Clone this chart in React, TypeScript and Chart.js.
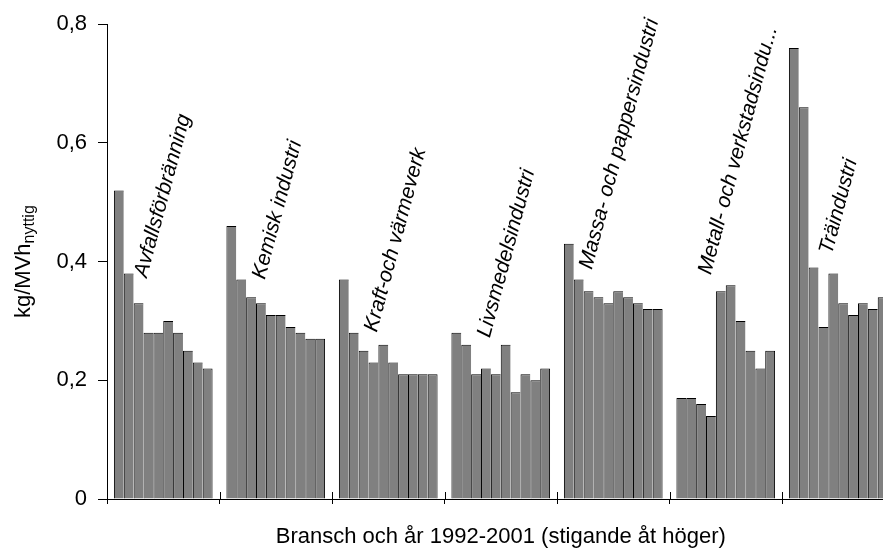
import React, { useEffect, useRef } from "react";
import { Chart, registerables } from "chart.js";

Chart.register(...registerables);

// ---- Data ----
const industries = [
  "Avfallsförbränning",
  "Kemisk industri",
  "Kraft-och värmeverk",
  "Livsmedelsindustri",
  "Massa- och pappersindustri",
  "Metall- och verkstadsindu...",
  "Träindustri",
];
const years = ["1992", "1993", "1994", "1995", "1996", "1997", "1998", "1999", "2000", "2001"];

const avfallsforbranning = [0.52, 0.38, 0.33, 0.28, 0.28, 0.30, 0.28, 0.25, 0.23, 0.22];
const kemiskIndustri = [0.46, 0.37, 0.34, 0.33, 0.31, 0.31, 0.29, 0.28, 0.27, 0.27];
const kraftOchVarmeverk = [0.37, 0.28, 0.25, 0.23, 0.26, 0.23, 0.21, 0.21, 0.21, 0.21];
const livsmedelsindustri = [0.28, 0.26, 0.21, 0.22, 0.21, 0.26, 0.18, 0.21, 0.20, 0.22];
const massaOchPappersindustri = [0.43, 0.37, 0.35, 0.34, 0.33, 0.35, 0.34, 0.33, 0.32, 0.32];
const metallOchVerkstadsindustri = [0.17, 0.17, 0.16, 0.14, 0.35, 0.36, 0.30, 0.25, 0.22, 0.25];
const traindustri = [0.76, 0.66, 0.39, 0.29, 0.38, 0.33, 0.31, 0.33, 0.32, 0.34];

const series = [
  avfallsforbranning,
  kemiskIndustri,
  kraftOchVarmeverk,
  livsmedelsindustri,
  massaOchPappersindustri,
  metallOchVerkstadsindustri,
  traindustri,
];

const yTickLabels = ["0", "0,2", "0,4", "0,6", "0,8"];
const yTitleMain = "kg/MVh";
const yTitleSub = "nyttig";
const xTitle = "Bransch och år 1992-2001 (stigande åt höger)";

// ---- Style / placement config ----
const FONT = "'Liberation Sans', Arial, Helvetica, sans-serif";
const CAT_PCT = 0.877;
const labelSlot = [3.33, 3.88, 3.83, 3.88, 2.82, 3.48, 4.34]; // in bar widths from group start
const labelLevel = [0.372, 0.369, 0.28, 0.271, 0.386, 0.377, 0.411]; // y value of label baseline start
const LABEL_ANGLE = -75;

const annotate = {
  id: "annotate",
  afterDraw(chart: any) {
    const { ctx, chartArea } = chart;
    const x = chart.scales.x;
    const y = chart.scales.y;
    const cat = x.getPixelForValue(1) - x.getPixelForValue(0);
    const groupW = cat * CAT_PCT;
    const barW = groupW / years.length;
    ctx.save();
    ctx.fillStyle = "#000";
    ctx.strokeStyle = "#000";

    // upward parts of x-axis tick marks
    ctx.lineWidth = 1;
    ctx.beginPath();
    for (let i = 0; i <= industries.length; i++) {
      const bx = Math.round(x.getPixelForValue(0) - cat / 2 + i * cat) + 0.5;
      ctx.moveTo(bx, chartArea.bottom - 7);
      ctx.lineTo(bx, chartArea.bottom);
    }
    ctx.stroke();

    // group labels
    ctx.font = `italic 21px ${FONT}`;
    ctx.textAlign = "left";
    ctx.textBaseline = "alphabetic";
    industries.forEach((name, i) => {
      const gx = x.getPixelForValue(i) - groupW / 2 + labelSlot[i] * barW;
      const gy = y.getPixelForValue(labelLevel[i]);
      ctx.save();
      ctx.translate(gx, gy);
      ctx.rotate((LABEL_ANGLE * Math.PI) / 180);
      ctx.fillText(name, 0, 0);
      ctx.restore();
    });

    // y title with subscript
    ctx.save();
    ctx.translate(30, 318);
    ctx.rotate(-Math.PI / 2);
    ctx.font = `22px ${FONT}`;
    ctx.fillText(yTitleMain, 0, 0);
    const w = ctx.measureText(yTitleMain).width;
    ctx.font = `16px ${FONT}`;
    ctx.fillText(yTitleSub, w, 4);
    ctx.restore();

    // x title
    ctx.font = `22px ${FONT}`;
    ctx.textAlign = "center";
    ctx.fillText(xTitle, (chartArea.left + chartArea.right) / 2, 543);
    ctx.restore();
  },
};

export default function App() {
  const ref = useRef<HTMLCanvasElement>(null);
  useEffect(() => {
    if (!ref.current) return;
    const datasets = years.map((yr, j) => ({
      label: yr,
      data: series.map((s) => s[j]),
      backgroundColor: "#808080",
      borderColor: "#000000",
      borderWidth: { top: 1, left: 1, right: j === years.length - 1 ? 1 : 0, bottom: 0 },
      borderSkipped: "bottom" as const,
      categoryPercentage: CAT_PCT,
      barPercentage: 1,
    }));
    const chart = new Chart(ref.current, {
      type: "bar",
      data: { labels: industries, datasets },
      plugins: [annotate],
      options: {
        animation: false,
        responsive: false,
        devicePixelRatio: 1,
        layout: { padding: { top: 24, right: 5.5, left: 0, bottom: 0 } },
        plugins: { legend: { display: false }, tooltip: { enabled: false }, title: { display: false } },
        scales: {
          x: {
            type: "category",
            offset: true,
            grid: { offset: true, drawOnChartArea: false, drawTicks: true, tickLength: 5, color: "#000", lineWidth: 1 },
            border: { display: true, color: "#000", width: 1 },
            ticks: { display: false },
            afterFit: (s: any) => {
              s.height = 51;
            },
          },
          y: {
            min: 0,
            max: 0.8,
            ticks: {
              stepSize: 0.2,
              color: "#000",
              padding: 11,
              font: { size: 22, family: FONT },
              callback: (_v: any, i: number) => yTickLabels[i],
            },
            grid: { drawOnChartArea: false, drawTicks: true, tickLength: 9, color: "#000", lineWidth: 1 },
            border: { display: true, color: "#000", width: 1 },
            afterFit: (s: any) => {
              s.width = 107;
            },
          },
        },
      },
    });
    return () => chart.destroy();
  }, []);
  return (
    <div style={{ position: "fixed", left: 0, top: 0, width: 883, height: 550, overflow: "hidden", background: "#fff" }}>
      <canvas ref={ref} width={900} height={550} style={{ display: "block" }} />
    </div>
  );
}
